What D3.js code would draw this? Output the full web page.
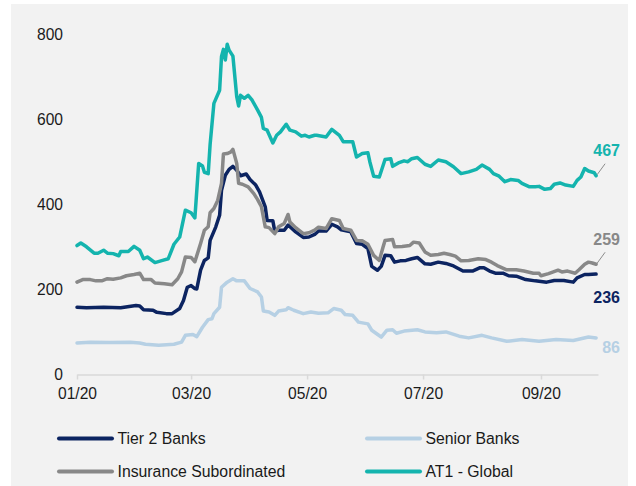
<!DOCTYPE html>
<html>
<head>
<meta charset="utf-8">
<script src="https://cdn.jsdelivr.net/npm/d3@7"></script>
<style>
  html, body { margin: 0; padding: 0; background: #ffffff; }
  svg { display: block; }
  text { font-family: Arial, "Liberation Sans", sans-serif; }
</style>
</head>
<body>
<svg id="chart" width="636" height="486"></svg>
<script>
// ---- Data (dates are MM-DD in 2020, values in bp) ----
const seriesNames = ["Tier 2 Banks", "Senior Banks", "Insurance Subordinated", "AT1 - Global"];
const endLabels = [236, 86, 259, 467];
const yTicks = [0, 200, 400, 600, 800];
const xTickLabels = ["01/20", "03/20", "05/20", "07/20", "09/20"];
const xTickDates = ["01-01", "03-01", "05-01", "07-01", "09-01"];

const tier2 = [
  ["01-01",158],["01-06",157],["01-15",158],["01-24",157],["02-01",162],["02-03",161],["02-05",152],
  ["02-10",151],["02-12",146],["02-17",143],["02-20",143],["02-24",155],["02-26",174],["02-28",205],
  ["03-01",209],["03-03",202],["03-04",201],["03-06",245],["03-08",268],["03-10",274],["03-11",315],
  ["03-14",347],["03-16",374],["03-17",433],["03-19",468],["03-21",482],["03-23",489],["03-25",480],
  ["03-27",467],["03-30",471],["04-01",458],["04-04",445],["04-06",429],["04-09",394],["04-10",362],
  ["04-13",361],["04-14",337],["04-16",339],["04-19",339],["04-21",351],["04-22",347],["04-25",335],
  ["04-29",322],["05-02",323],["05-05",329],["05-07",337],["05-11",337],["05-14",353],["05-17",347],
  ["05-19",340],["05-24",335],["05-27",308],["05-30",306],["06-02",296],["06-04",254],["06-07",245],
  ["06-09",254],["06-11",280],["06-14",279],["06-16",264],["06-19",267],["06-22",268],["06-25",272],
  ["06-28",275],["07-02",260],["07-05",259],["07-09",264],["07-13",261],["07-17",255],["07-22",243],
  ["07-27",243],["07-31",251],["08-02",251],["08-05",243],["08-08",238],["08-12",238],["08-15",232],
  ["08-19",231],["08-24",223],["08-29",220],["09-04",217],["09-08",221],["09-13",221],["09-18",217],
  ["09-20",227],["09-24",235],["09-26",235],["09-30",236]
];

const senior = [
  ["01-01",74],["01-08",76],["01-18",75],["01-29",76],["02-03",74],["02-06",71],["02-13",69],
  ["02-21",71],["02-25",76],["02-27",92],["03-02",94],["03-04",89],["03-07",111],["03-10",129],
  ["03-12",131],["03-13",143],["03-16",158],["03-17",205],["03-20",217],["03-23",225],["03-25",220],
  ["03-29",220],["04-01",202],["04-05",194],["04-07",182],["04-08",149],["04-11",147],["04-14",139],
  ["04-16",149],["04-20",152],["04-21",157],["04-24",151],["04-29",143],["05-03",147],["05-07",144],
  ["05-12",145],["05-15",155],["05-19",151],["05-21",141],["05-25",139],["05-28",123],["06-02",119],
  ["06-04",104],["06-09",88],["06-12",104],["06-15",105],["06-17",97],["06-21",102],["06-28",105],
  ["07-02",100],["07-08",98],["07-13",100],["07-20",90],["07-25",86],["08-01",92],["08-06",86],
  ["08-14",78],["08-22",82],["08-31",78],["09-09",82],["09-18",80],["09-26",88],["09-30",86]
];

const insurance = [
  ["01-01",217],["01-04",223],["01-08",223],["01-11",220],["01-14",220],["01-17",225],["01-20",224],
  ["01-24",227],["01-27",232],["01-31",235],["02-03",238],["02-05",223],["02-09",223],["02-11",215],
  ["02-16",213],["02-20",211],["02-23",225],["02-25",241],["02-27",276],["03-01",275],["03-03",265],
  ["03-06",308],["03-08",339],["03-10",347],["03-11",380],["03-13",390],["03-15",409],["03-17",449],
  ["03-18",518],["03-20",519],["03-22",523],["03-23",529],["03-25",496],["03-26",449],["03-28",447],
  ["03-31",441],["04-03",425],["04-05",411],["04-07",394],["04-09",347],["04-11",345],["04-14",331],
  ["04-16",347],["04-19",355],["04-21",376],["04-22",358],["04-25",345],["04-29",331],["05-02",333],
  ["05-05",339],["05-07",346],["05-11",343],["05-14",366],["05-18",362],["05-20",343],["05-24",339],
  ["05-27",315],["05-30",314],["06-02",306],["06-05",280],["06-08",268],["06-10",300],["06-11",315],
  ["06-15",317],["06-16",300],["06-20",301],["06-24",303],["06-26",311],["06-29",309],["07-02",288],
  ["07-05",280],["07-09",282],["07-12",285],["07-15",282],["07-18",278],["07-21",267],["07-25",268],
  ["07-30",272],["08-03",270],["08-06",264],["08-09",256],["08-14",246],["08-19",246],["08-23",243],
  ["08-28",238],["08-31",238],["09-01",232],["09-05",237],["09-10",245],["09-12",241],["09-15",243],
  ["09-19",238],["09-21",246],["09-24",259],["09-26",264],["09-28",262],["09-30",259]
];

const at1 = [
  ["01-01",303],["01-03",309],["01-06",300],["01-10",285],["01-12",285],["01-15",292],["01-17",285],
  ["01-20",284],["01-23",279],["01-24",289],["01-28",289],["01-31",301],["02-03",292],["02-05",272],
  ["02-07",276],["02-11",263],["02-15",268],["02-18",272],["02-21",306],["02-24",323],["02-27",386],
  ["03-01",380],["03-03",368],["03-05",496],["03-07",490],["03-08",475],["03-10",472],["03-11",540],
  ["03-13",637],["03-16",668],["03-17",747],["03-18",764],["03-19",739],["03-20",776],["03-21",762],
  ["03-23",748],["03-25",653],["03-26",631],["03-27",656],["03-29",649],["03-31",656],["04-02",645],
  ["04-05",621],["04-07",604],["04-08",578],["04-10",574],["04-13",544],["04-15",562],["04-17",570],
  ["04-20",588],["04-22",574],["04-25",570],["04-28",560],["04-30",562],["05-02",558],["05-05",562],
  ["05-06",562],["05-11",558],["05-14",576],["05-18",562],["05-20",547],["05-25",547],["05-27",511],
  ["05-30",519],["06-02",521],["06-03",500],["06-05",466],["06-08",464],["06-11",505],["06-14",507],
  ["06-15",489],["06-18",497],["06-21",502],["06-23",500],["06-25",507],["06-28",510],["07-02",494],
  ["07-05",489],["07-09",504],["07-13",500],["07-17",488],["07-21",472],["07-25",476],["07-29",482],
  ["08-01",492],["08-05",482],["08-07",472],["08-10",466],["08-13",453],["08-16",458],["08-20",456],
  ["08-22",449],["08-26",441],["08-29",441],["08-31",442],["09-03",435],["09-06",437],["09-08",447],
  ["09-11",450],["09-14",445],["09-18",442],["09-20",456],["09-22",464],["09-24",484],["09-26",478],
  ["09-29",474],["09-30",467]
];

// ---- Rendering ----
const colors = ["#0c2461", "#b6d0e4", "#888888", "#14b4ae"];
const parse = d3.timeParse("%Y-%m-%d");
const toDate = s => parse("2020-" + s);
const allSeries = [tier2, senior, insurance, at1].map(arr => arr.map(([d, v]) => ({ date: toDate(d), value: v })));

const svg = d3.select("#chart");
svg.append("rect").attr("x", 11).attr("y", 4).attr("width", 617).attr("height", 482).attr("fill", "#f2f2f2");

const x = d3.scaleTime().domain([toDate("01-01"), toDate("10-01")]).range([77, 598]);
const y = d3.scaleLinear().domain([0, 800]).range([374.5, 34]);

// Y axis labels (no line)
const yAxis = d3.axisLeft(y).tickValues(yTicks).tickSize(0).tickPadding(0).tickFormat(d3.format("d"));
const gy = svg.append("g").attr("transform", "translate(63,0)").call(yAxis);
gy.select(".domain").remove();
gy.selectAll("text").attr("font-size", 15.6).attr("fill", "#1a1a1a").attr("font-family", "Arial, 'Liberation Sans', sans-serif").attr("dy", "0.35em");

// X axis
const xAxis = d3.axisBottom(x)
  .tickValues(xTickDates.map(toDate))
  .tickFormat((d, i) => xTickLabels[i])
  .tickSize(5).tickSizeOuter(0).tickPadding(8);
const gx = svg.append("g").attr("transform", "translate(0,374.5)").call(xAxis);
gx.select(".domain").attr("stroke", "#d9d9d9").attr("stroke-width", 1.5);
gx.selectAll(".tick line").attr("stroke", "#d9d9d9").attr("stroke-width", 1.5);
gx.selectAll("text").attr("font-size", 15.6).attr("fill", "#1a1a1a").attr("font-family", "Arial, 'Liberation Sans', sans-serif");

// Lines
const line = d3.line().x(d => x(d.date)).y(d => y(d.value));
allSeries.forEach((s, i) => {
  svg.append("path").datum(s).attr("d", line)
    .attr("fill", "none").attr("stroke", colors[i]).attr("stroke-width", 3.5)
    .attr("stroke-linejoin", "round").attr("stroke-linecap", "round");
});

// End labels
const labelOffsets = [23, 10, -25, -25];
const leader = [false, false, true, true];
allSeries.forEach((s, i) => {
  const last = s[s.length - 1];
  const lx = x(last.date), ly = y(last.value);
  if (leader[i]) {
    svg.append("line").attr("x1", lx + 1).attr("y1", ly - 1).attr("x2", lx + 9).attr("y2", ly - 12)
      .attr("stroke", "#8c8c8c").attr("stroke-width", 1);
  }
  svg.append("text").attr("x", 620).attr("y", ly + labelOffsets[i]).attr("dy", "0.35em")
    .attr("text-anchor", "end").attr("font-size", 16).attr("font-weight", "bold")
    .attr("fill", colors[i]).text(endLabels[i]);
});

// Legend
const legendPos = [[59, 438.5], [367, 438.5], [59, 471.5], [367, 471.5]];
seriesNames.forEach((name, i) => {
  const [lx, ly] = legendPos[i];
  svg.append("line").attr("x1", lx).attr("x2", lx + 53).attr("y1", ly).attr("y2", ly)
    .attr("stroke", colors[i]).attr("stroke-width", 4).attr("stroke-linecap", "round");
  svg.append("text").attr("x", lx + 58.5).attr("y", ly).attr("dy", "0.35em")
    .attr("font-size", 15.8).attr("fill", "#1a1a1a").text(name);
});
</script>
</body>
</html>
